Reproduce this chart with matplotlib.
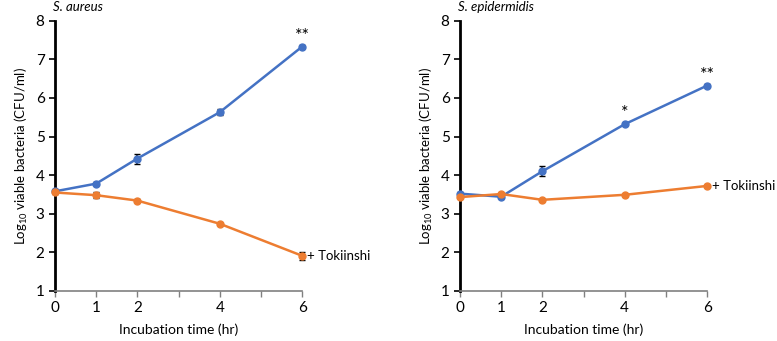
import numpy as np
import matplotlib.pyplot as plt

plt.rcParams['font.family'] = ['Lato', 'DejaVu Sans']
plt.rcParams['mathtext.fontset'] = 'custom'
plt.rcParams['mathtext.rm'] = 'Lato'

# time points (hr)
time = [0, 1, 2, 4, 6]

# S. aureus
sa_ctrl = [3.58, 3.78, 4.43, 5.63, 7.33]
sa_ctrl_err = [0.03, 0.04, 0.13, 0.08, 0.03]
sa_toki = [3.55, 3.48, 3.34, 2.74, 1.91]
sa_toki_err = [0.03, 0.08, 0.03, 0.03, 0.1]

# S. epidermidis
se_ctrl = [3.52, 3.44, 4.10, 5.32, 6.32]
se_ctrl_err = [0.03, 0.03, 0.13, 0.03, 0.03]
se_toki = [3.43, 3.51, 3.36, 3.49, 3.72]
se_toki_err = [0.03, 0.03, 0.03, 0.03, 0.03]

blue = '#4472C4'
orange = '#ED7D31'

fig = plt.figure(figsize=(7.77, 3.41), dpi=100)

panels = [
    ('S. aureus', sa_ctrl, sa_ctrl_err, sa_toki, sa_toki_err, {6: '**'}, 0.0708),
    ('S. epidermidis', se_ctrl, se_ctrl_err, se_toki, se_toki_err, {4: '*', 6: '**'}, 0.592),
]

for title, ctrl, ctrl_err, toki, toki_err, stars, x0 in panels:
    ax = fig.add_axes([x0, 0.147, 0.318, 0.792])
    ax.errorbar(time, ctrl, yerr=ctrl_err, color=blue, marker='o', markersize=5,
                linewidth=1.8, ecolor='black', elinewidth=1.2, capsize=2.5, zorder=3)
    ax.errorbar(time, toki, yerr=toki_err, color=orange, marker='o', markersize=5,
                linewidth=1.8, ecolor='black', elinewidth=1.2, capsize=2.5, zorder=3)
    for t, s in stars.items():
        i = time.index(t)
        ax.text(t, ctrl[i] + 0.08, s, ha='center', va='bottom', fontsize=13)
    ax.text(6.13, toki[-1], '+ Tokiinshi', va='center', ha='left', fontsize=9.5)
    ax.text(-0.05, 8.2, title, style='italic', fontsize=9.5, ha='left', va='bottom')

    ax.set_xlim(0, 6)
    ax.set_ylim(1, 8)
    ax.set_xticks(range(7))
    ax.set_xticklabels(['0', '1', '2', '', '4', '', '6'], fontsize=11)
    ax.set_yticks(range(1, 9))
    ax.tick_params(axis='y', labelsize=11, length=4, width=1.2)
    ax.tick_params(axis='x', length=4, width=1, color='gray')
    ax.spines['top'].set_visible(False)
    ax.spines['right'].set_visible(False)
    ax.spines['left'].set_linewidth(2)
    ax.spines['bottom'].set_color('gray')
    ax.spines['bottom'].set_linewidth(1.2)
    ax.set_xlabel('Incubation time (hr)', fontsize=10, labelpad=6)
    ax.set_ylabel(r'Log$_{10}$ viable bacteria (CFU/ml)', fontsize=9.5)
    for line in ax.lines:
        line.set_clip_on(False)

fig.savefig('out.png', dpi=100)
